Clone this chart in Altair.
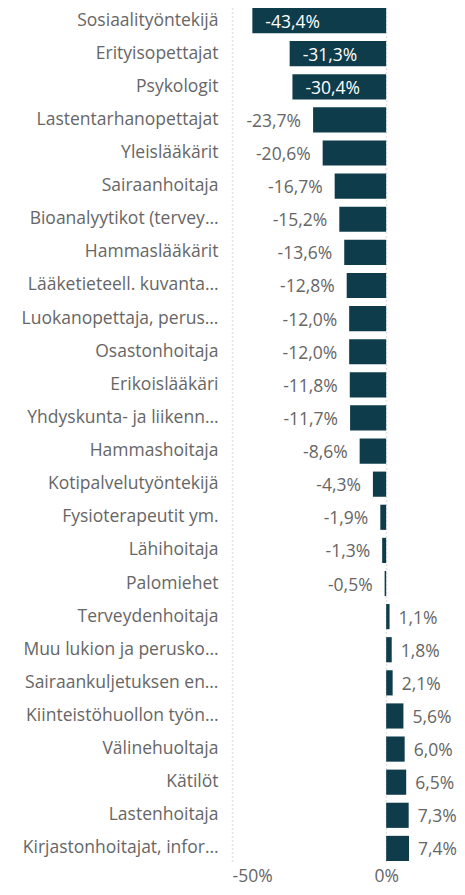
import altair as alt
import pandas as pd

categories = [
    "Sosiaalityöntekijä", "Erityisopettajat", "Psykologit", "Lastentarhanopettajat",
    "Yleislääkärit", "Sairaanhoitaja", "Bioanalyytikot (tervey…", "Hammaslääkärit",
    "Lääketieteell. kuvanta…", "Luokanopettaja, perus…", "Osastonhoitaja", "Erikoislääkäri",
    "Yhdyskunta- ja liikenn…", "Hammashoitaja", "Kotipalvelutyöntekijä", "Fysioterapeutit ym.",
    "Lähihoitaja", "Palomiehet", "Terveydenhoitaja", "Muu lukion ja perusko…",
    "Sairaankuljetuksen en…", "Kiinteistöhuollon työn…", "Välinehuoltaja", "Kätilöt",
    "Lastenhoitaja", "Kirjastonhoitajat, infor…",
]
values = [
    -43.4, -31.3, -30.4, -23.7, -20.6, -16.7, -15.2, -13.6, -12.8, -12.0, -12.0, -11.8,
    -11.7, -8.6, -4.3, -1.9, -1.3, -0.5, 1.1, 1.8, 2.1, 5.6, 6.0, 6.5, 7.3, 7.4,
]
inside_labels = ["Sosiaalityöntekijä", "Erityisopettajat", "Psykologit"]
x_ticks = [-50, 0]

df = pd.DataFrame({"cat": categories, "val": values})
df["label"] = df["val"].map(lambda v: f"{v:.1f}".replace(".", ",") + "%")
df["pos"] = [
    "inside" if c in inside_labels else ("neg" if v < 0 else "pos")
    for c, v in zip(categories, values)
]

FONT = "Open Sans"
GRAY = "#666666"
BAR = "#0f3c4a"
FS = 17.5

y_enc = alt.Y(
    "cat:N", sort=categories, title=None,
    scale=alt.Scale(paddingInner=0.24, paddingOuter=0.0),
    axis=alt.Axis(labelFontSize=FS, labelColor=GRAY, labelFont=FONT, labelPadding=14,
                  ticks=False, domain=False, labelLimit=300),
)
x_enc = alt.X(
    "val:Q", title=None,
    scale=alt.Scale(domain=[-50, 22], nice=False, zero=False),
    axis=alt.Axis(values=x_ticks, labelExpr="datum.value + '%'", labelFontSize=FS,
                  labelColor=GRAY, labelFont=FONT, labelPadding=6, ticks=False,
                  domain=False, grid=True, gridColor="#c8c8c8", gridDash=[1, 3],
                  gridWidth=1.5),
)

base = alt.Chart(df)
bars = base.mark_bar(color=BAR).encode(x=x_enc, x2=alt.datum(0), y=y_enc)

txt_common = dict(fontSize=FS, font=FONT, baseline="middle", dy=2)
inside = base.transform_filter("datum.pos == 'inside'").mark_text(
    align="left", dx=13, color="white", **txt_common
).encode(x="val:Q", y=alt.Y("cat:N", sort=categories), text="label:N")
neg = base.transform_filter("datum.pos == 'neg'").mark_text(
    align="right", dx=-12, color=GRAY, **txt_common
).encode(x="val:Q", y=alt.Y("cat:N", sort=categories), text="label:N")
pos = base.transform_filter("datum.pos == 'pos'").mark_text(
    align="left", dx=9, color=GRAY, **txt_common
).encode(x="val:Q", y=alt.Y("cat:N", sort=categories), text="label:N")

chart = (
    alt.layer(bars, inside, neg, pos)
    .properties(
        width=222, height=853,
        autosize=alt.AutoSizeParams(type="none"),
        padding={"left": 224, "top": 0, "right": 3, "bottom": 26},
    )
    .configure_view(stroke=None)
)

chart.save("out.html", embed_options={"renderer": "svg", "actions": False})
